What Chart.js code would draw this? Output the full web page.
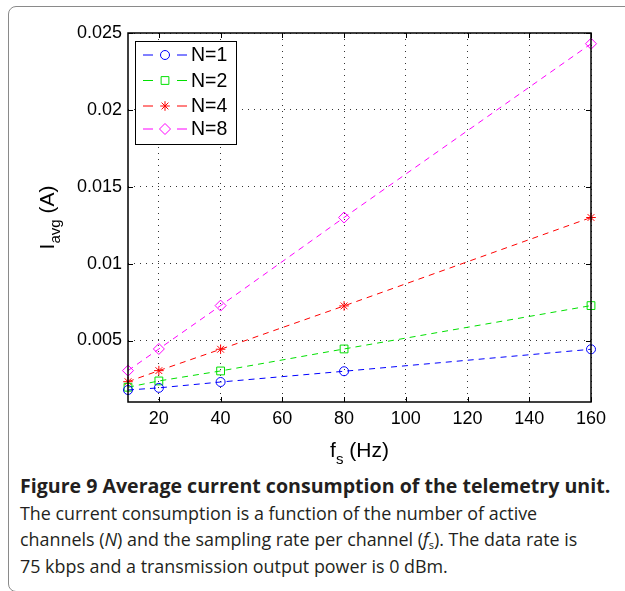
<!DOCTYPE html>
<html>
<head>
<meta charset="utf-8">
<script src="https://cdn.jsdelivr.net/npm/chart.js@4/dist/chart.umd.min.js"></script>
<style>
  html, body { margin: 0; padding: 0; background: #fff; }
  body { width: 625px; height: 591px; position: relative; overflow: hidden; }
  #frame {
    position: absolute; left: 8px; top: 6px; width: 700px; height: 584px;
    border: 1px solid #8a8a8a; border-radius: 8px;
  }
  #wrap { position: absolute; left: 0; top: 0; width: 625px; height: 470px; }
  #caption {
    position: absolute; left: 20px; top: 473px;
    font-family: "Open Sans", "Lato", sans-serif; font-size: 18px;
    color: #231f20; white-space: nowrap;
  }
  #caption .ln { height: 26.5px; line-height: 26.5px; }
  #caption span { display: inline-block; }
  #caption sub { font-size: 11px; line-height: 0; vertical-align: -3px; }
</style>
</head>
<body>
<div id="frame"></div>
<div id="wrap"><canvas id="chart"></canvas></div>
<div id="caption">
  <div class="ln"><span id="l1" style="font-weight:bold">Figure 9 Average current consumption of the telemetry unit.</span></div>
  <div class="ln"><span id="l2">The current consumption is a function of the number of active</span></div>
  <div class="ln"><span id="l3">channels (<i>N</i>) and the sampling rate per channel (<i>f</i><sub>s</sub>). The data rate is</span></div>
  <div class="ln"><span id="l4">75 kbps and a transmission output power is 0 dBm.</span></div>
</div>
<script>
const fsValues = [10, 20, 40, 80, 160];
const n1 = [0.00178, 0.00192, 0.0023, 0.003, 0.00443];
const n2 = [0.00196, 0.00237, 0.00302, 0.00445, 0.00727];
const n4 = [0.00232, 0.00304, 0.00443, 0.00725, 0.013];
const n8 = [0.00304, 0.00445, 0.00727, 0.013, 0.0243];
const xTicks = [20, 40, 60, 80, 100, 120, 140, 160];
const yTicks = [0.005, 0.01, 0.015, 0.02, 0.025];
const yTickLabels = ["0.005", "0.01", "0.015", "0.02", "0.025"];

const FONT = '"Liberation Sans", Arial, Helvetica, sans-serif';

// caption: size the bold line and the body lines to the widths seen in the figure
function fitCaption() {
  const l1 = document.getElementById("l1");
  const l2 = document.getElementById("l2");
  l1.style.fontSize = (18 * 591 / l1.offsetWidth).toFixed(2) + "px";
  const body = (18 * 517 / l2.offsetWidth).toFixed(2) + "px";
  ["l2", "l3", "l4"].forEach((id) => { document.getElementById(id).style.fontSize = body; });
}
fitCaption();

const series = [
  { label: "N=1", data: n1, color: "#0000ff", style: "circle", r: 4.5 },
  { label: "N=2", data: n2, color: "#00e000", style: "rect", r: 5.5 },
  { label: "N=4", data: n4, color: "#ff0000", style: "star", r: 4.8 },
  { label: "N=8", data: n8, color: "#ff00ff", style: "rectRot", r: 5.5 },
];

const datasets = series.map((s) => ({
  label: s.label,
  data: fsValues.map((x, i) => ({ x, y: s.data[i] })),
  borderColor: s.color,
  backgroundColor: "transparent",
  borderWidth: 1,
  borderDash: [6, 5],
  pointStyle: s.style,
  pointRadius: s.r,
  pointBorderWidth: 1,
  pointBorderColor: s.color,
  pointBackgroundColor: "transparent",
  tension: 0,
  clip: false,
}));

// axes box with inward ticks, axis titles and the legend
const matlabBits = {
  id: "matlabBits",
  afterDatasetsDraw(chart) {
    const { ctx, chartArea: a, scales } = chart;
    ctx.save();
    ctx.strokeStyle = "#000";
    ctx.lineWidth = 1.5;
    ctx.setLineDash([]);
    ctx.strokeRect(a.left, a.top, a.right - a.left, a.bottom - a.top);
    ctx.lineWidth = 1;
    const tl = 5;
    xTicks.forEach((v) => {
      const x = Math.round(scales.x.getPixelForValue(v)) + 0.5;
      ctx.beginPath();
      ctx.moveTo(x, a.bottom); ctx.lineTo(x, a.bottom - tl);
      ctx.moveTo(x, a.top); ctx.lineTo(x, a.top + tl);
      ctx.stroke();
    });
    yTicks.forEach((v) => {
      const y = Math.round(scales.y.getPixelForValue(v)) + 0.5;
      ctx.beginPath();
      ctx.moveTo(a.left, y); ctx.lineTo(a.left + tl, y);
      ctx.moveTo(a.right, y); ctx.lineTo(a.right - tl, y);
      ctx.stroke();
    });

    // x title: f_s (Hz)
    ctx.fillStyle = "#000";
    ctx.textBaseline = "alphabetic";
    ctx.textAlign = "left";
    const big = "21px " + FONT, small = "15px " + FONT;
    ctx.font = big;
    const wf = ctx.measureText("f").width;
    const wr = ctx.measureText(" (Hz)").width;
    ctx.font = small;
    const ws = ctx.measureText("s").width;
    let x0 = (a.left + a.right) / 2 - (wf + ws + wr) / 2;
    const by = 457;
    ctx.font = big; ctx.fillText("f", x0, by);
    ctx.font = small; ctx.fillText("s", x0 + wf, by + 7);
    ctx.font = big; ctx.fillText(" (Hz)", x0 + wf + ws, by);

    // y title: I_avg (A)
    ctx.save();
    ctx.translate(54, (a.top + a.bottom) / 2);
    ctx.rotate(-Math.PI / 2);
    ctx.font = big;
    const wi = ctx.measureText("I").width;
    const wa2 = ctx.measureText(" (A)").width;
    ctx.font = small;
    const wavg = ctx.measureText("avg").width;
    x0 = -(wi + wavg + wa2) / 2;
    ctx.font = big; ctx.fillText("I", x0, 0);
    ctx.font = small; ctx.fillText("avg", x0 + wi, 6);
    ctx.font = big; ctx.fillText(" (A)", x0 + wi + wavg, 0);
    ctx.restore();

    // legend
    const lx = 135.5, ly = 41.5, lw = 101, lh = 103;
    ctx.fillStyle = "#fff";
    ctx.fillRect(lx, ly, lw, lh);
    ctx.strokeStyle = "#000";
    ctx.lineWidth = 1;
    ctx.strokeRect(lx, ly, lw, lh);
    const rows = [55, 80.5, 106, 129];
    series.forEach((s, i) => {
      const y = rows[i];
      ctx.strokeStyle = s.color;
      ctx.lineWidth = 1;
      ctx.beginPath();
      ctx.moveTo(143, y); ctx.lineTo(153, y);
      ctx.moveTo(177, y); ctx.lineTo(187, y);
      ctx.stroke();
      ctx.fillStyle = "transparent";
      Chart.helpers.drawPoint(ctx, { pointStyle: s.style, radius: s.r, rotation: 0, borderWidth: 1 }, 165, y);
      ctx.fillStyle = "#000";
      ctx.font = "19.5px " + FONT;
      ctx.textBaseline = "middle";
      ctx.fillText(s.label, 191, y + 1);
    });
    ctx.restore();
  },
};

new Chart(document.getElementById("chart").getContext("2d"), {
  type: "line",
  data: { datasets },
  plugins: [matlabBits],
  options: {
    responsive: true,
    maintainAspectRatio: false,
    animation: false,
    layout: { padding: { top: 33, right: 34, left: 0, bottom: 0 } },
    plugins: { legend: { display: false }, tooltip: { enabled: false } },
    scales: {
      x: {
        type: "linear",
        min: 10,
        max: 160,
        afterBuildTicks: (scale) => { scale.ticks = xTicks.map((v) => ({ value: v })); },
        afterFit: (scale) => { scale.height = 68; },
        ticks: { color: "#000", font: { family: FONT, size: 18 }, padding: 6, maxRotation: 0, callback: (v) => String(v) },
        grid: { color: "#333", lineWidth: 1, drawTicks: false },
        border: { display: false, dash: [1, 5] },
      },
      y: {
        type: "linear",
        min: 0.001,
        max: 0.025,
        afterBuildTicks: (scale) => { scale.ticks = yTicks.map((v) => ({ value: v })); },
        afterFit: (scale) => { scale.width = 128; },
        ticks: {
          color: "#000", font: { family: FONT, size: 18 }, padding: 6,
          callback: (v) => yTickLabels[yTicks.indexOf(v)] ?? String(v),
        },
        grid: { color: "#333", lineWidth: 1, drawTicks: false },
        border: { display: false, dash: [1, 5] },
      },
    },
  },
});
</script>
</body>
</html>
